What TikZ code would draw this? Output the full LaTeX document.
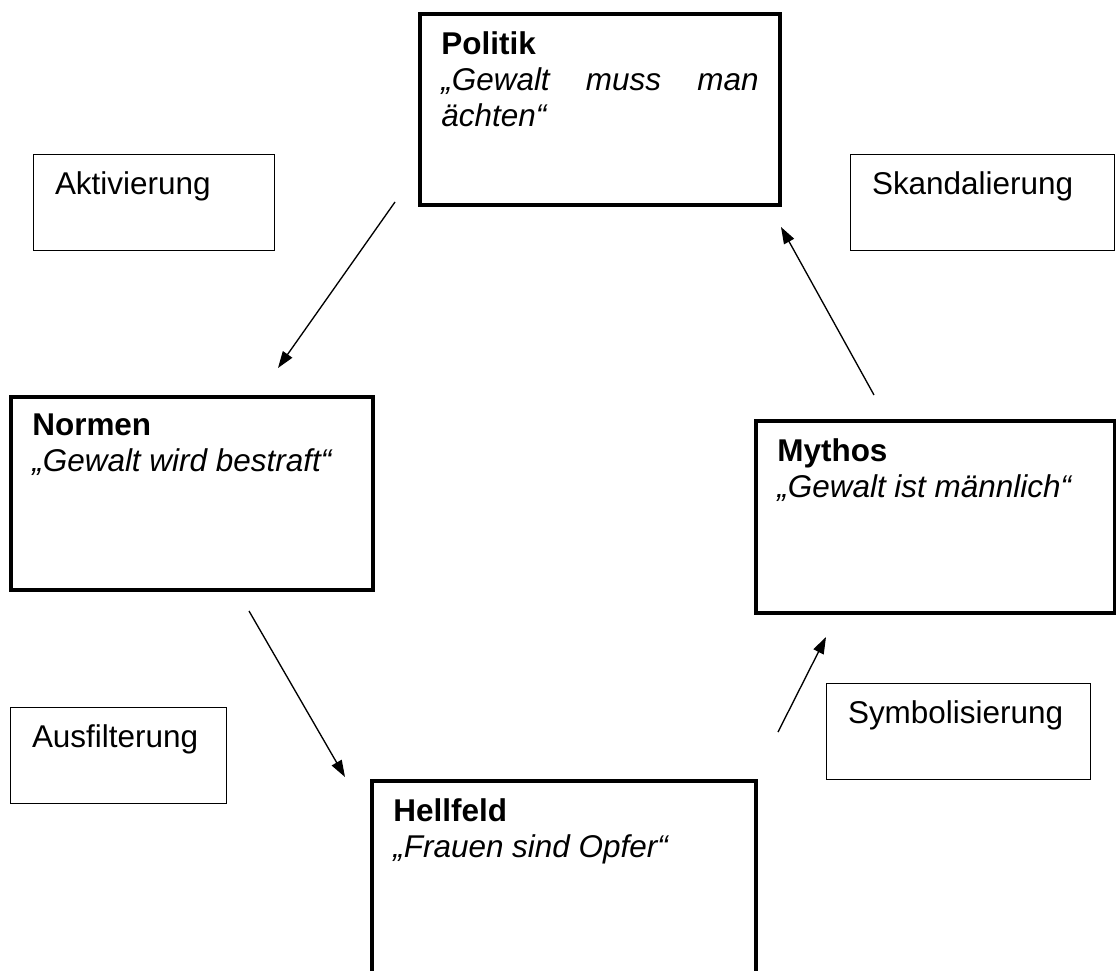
\documentclass[tikz,border=0pt]{standalone}
\usepackage{fontspec}
\setmainfont{Liberation Sans}
\usetikzlibrary{arrows.meta}

% text block pinned to the top of a box
\newcommand{\boxtext}[3]{\parbox[c][#2][t]{#1}{#3}}

\begin{document}
\begin{tikzpicture}[x=0.75pt, y=-0.75pt,
    every node/.style={font=\fontsize{23.6pt}{27pt}\selectfont},
    frame/.style={draw, anchor=north west, inner xsep=16pt, inner ysep=13pt},
    main_box/.style={frame, line width=3pt},
    side_box/.style={frame, line width=1pt},
    flow/.style={line width=1pt, -{Triangle[length=12.5pt, width=8.5pt]}}]

    \useasboundingbox (0,0) rectangle (1116,970);

    % main stations of the cycle
    \node (politik) [main_box] at (418,12) {\boxtext{238pt}{117.25pt}{\textbf{Politik}\\
        \textit{„Gewalt muss man\linebreak ächten“}}};
    \node (normen) [main_box] at (9,395) {\boxtext{239.5pt}{118.75pt}{\textbf{Normen}\\
        \textit{„Gewalt wird bestraft“}}};
    \node (hellfeld) [main_box] at (370,779) {\boxtext{256pt}{124pt}{\textbf{Hellfeld}\\
        \textit{„Frauen sind Opfer“}}};
    \node (mythos) [main_box] at (754,419) {\boxtext{237.25pt}{118pt}{\textbf{Mythos}\\
        \textit{„Gewalt ist männlich“}}};

    % processes between them
    \node (aktivierung) [side_box] at (33,154) {\boxtext{148.75pt}{46pt}{Aktivierung}};
    \node (ausfilterung) [side_box] at (10,707) {\boxtext{130pt}{46pt}{Ausfilterung}};
    \node (symbolisierung) [side_box] at (826,683) {\boxtext{166pt}{46pt}{Symbolisierung}};
    \node (skandalierung) [side_box] at (850,154) {\boxtext{166pt}{46pt}{Skandalierung}};

    \coordinate (politik_out) at (395,202);
    \coordinate (normen_in) at (278,368);
    \coordinate (normen_out) at (249,611);
    \coordinate (hellfeld_in) at (345,777);
    \coordinate (hellfeld_out) at (778,732);
    \coordinate (mythos_in) at (826,637);
    \coordinate (mythos_out) at (874,395);
    \coordinate (politik_in) at (781,227);

    \draw [flow] (politik_out) -- (normen_in);
    \draw [flow] (normen_out) -- (hellfeld_in);
    \draw [flow] (hellfeld_out) -- (mythos_in);
    \draw [flow] (mythos_out) -- (politik_in);

\end{tikzpicture}
\end{document}
